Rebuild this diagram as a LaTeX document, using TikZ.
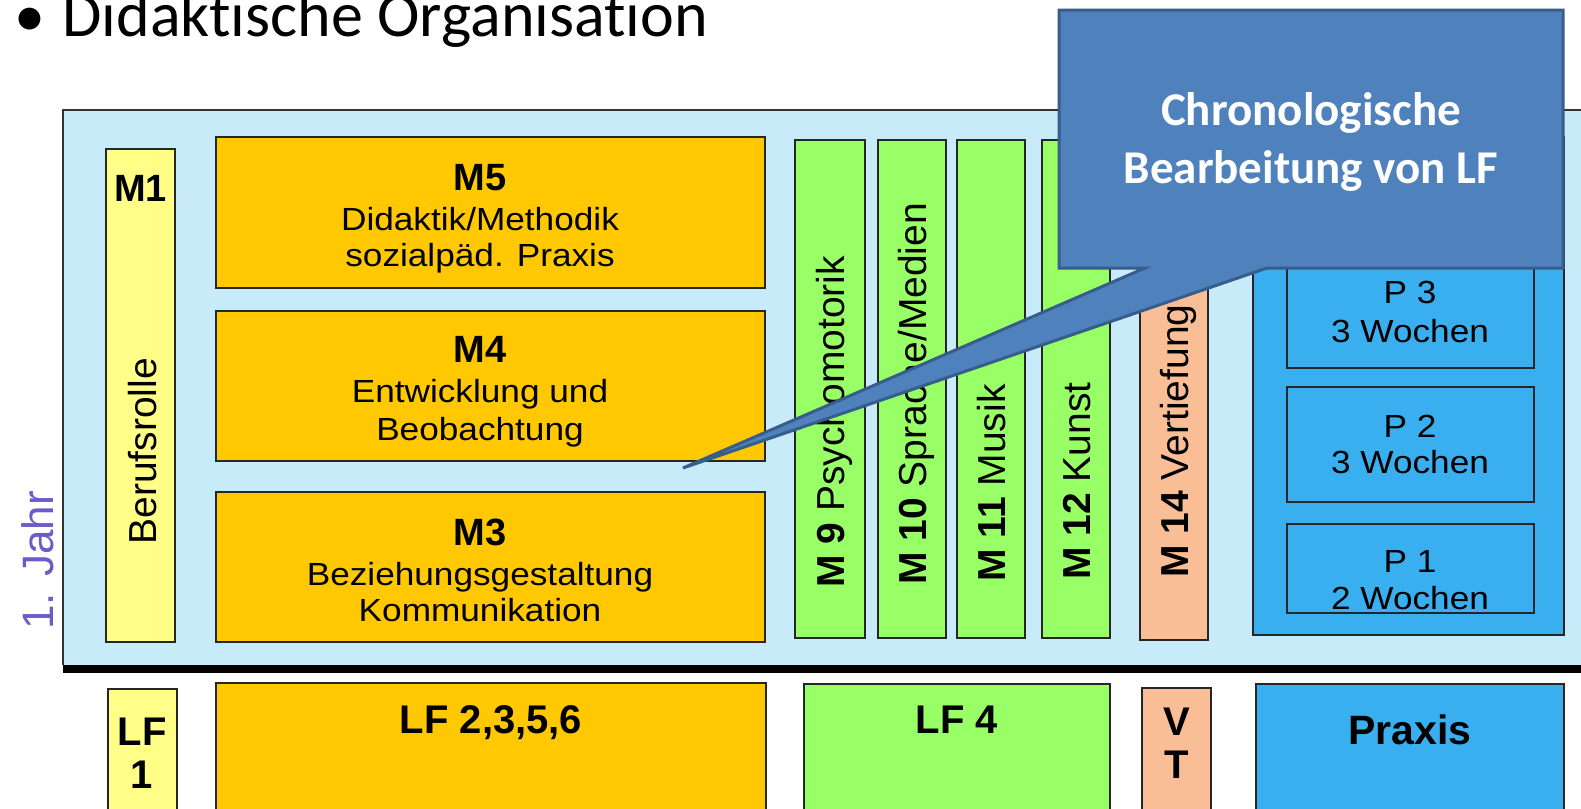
\documentclass[tikz,border=0pt]{standalone}
\usepackage{fontspec}
\setmainfont{Liberation Sans}
\newfontfamily\calib[Ligatures={NoCommon}]{Carlito}
\newfontfamily\arialw[FakeStretch=1.1]{Liberation Sans}
\usetikzlibrary{fit}
\definecolor{panelblue}{RGB}{200,235,250}
\definecolor{orangebox}{RGB}{255,200,0}
\definecolor{yellowbox}{RGB}{255,255,136}
\definecolor{greenbox}{RGB}{153,255,102}
\definecolor{salmonbox}{RGB}{250,190,150}
\definecolor{praxisblue}{RGB}{58,175,240}
\definecolor{callfill}{RGB}{79,129,189}
\definecolor{callline}{RGB}{56,93,138}
\definecolor{jahrcol}{RGB}{110,90,200}
\begin{document}
\begin{tikzpicture}[x=0.5pt,y=-0.5pt,
  box/.style={draw=black!85,line width=1.2pt,inner sep=0pt},
  obox/.style={box,fill=orangebox},
  ybox/.style={box,fill=yellowbox},
  gbox/.style={box,fill=greenbox},
  sbox/.style={box,fill=salmonbox},
  pbox/.style={box,fill=praxisblue},
  ttl/.style={anchor=base,inner sep=0pt,font=\bfseries\fontsize{19}{19}\selectfont},
  txt/.style={anchor=base,inner sep=0pt,font=\arialw\fontsize{16}{16}\selectfont},
  btl/.style={anchor=base,inner sep=0pt,font=\bfseries\fontsize{20}{20}\selectfont},
  vtxt/.style={anchor=base west,inner sep=0pt,rotate=90,font=\fontsize{19.5}{19.5}\selectfont},
  ctxt/.style={anchor=base,inner sep=0pt,text=white,font=\calib\bfseries\fontsize{23.5}{23.5}\selectfont}
]
\useasboundingbox (0,0) rectangle (1581,809);
\fill[white] (0,0) rectangle (1581,809);

% title
\node[anchor=base,inner sep=0pt,font=\calib\fontsize{31}{31}\selectfont] (bullet) at (30,36) {•};
\node[anchor=base west,inner sep=0pt,font=\calib\fontsize{32}{32}\selectfont] (title) at (62,36) {Didaktische Organisation};

% panel
\node[fit={(63,110)(1600,665)},fill=panelblue,inner sep=0pt] (panel) {};
\draw[line width=1pt,black!80] (panel.north east) -- (panel.north west) -- (panel.south west);
\draw[line width=4pt] (63,669) -- (1600,669);

% 1. Jahr
\node[vtxt,font=\fontsize{22}{22}\selectfont,text=jahrcol] (jahr) at (54,630) {1. Jahr};

% M1
\node[ybox,fit={(106,149)(175,642)}] (m1) {};
\node[ttl] (m1t) at (140.5,201) {M1};
\node[vtxt] (m1v) at (156,545) {Berufsrolle};

% orange modules
\node[obox,fit={(216,137)(765,288)}] (m5) {};
\node[ttl] (m5t) at (480,190) {M5};
\node[txt] (m5a) at (480,230) {Didaktik/Methodik};
\node[txt] (m5b) at (480,266) {sozialpäd. Praxis};

\node[obox,fit={(216,311)(765,461)}] (m4) {};
\node[ttl] (m4t) at (480,362) {M4};
\node[txt] (m4a) at (480,402) {Entwicklung und};
\node[txt] (m4b) at (480,440) {Beobachtung};

\node[obox,fit={(216,492)(765,642)}] (m3) {};
\node[ttl] (m3t) at (480,545) {M3};
\node[txt] (m3a) at (480,585) {Beziehungsgestaltung};
\node[txt] (m3b) at (480,621) {Kommunikation};

% vertical modules
\node[gbox,fit={(795,140)(865,638)}] (m9) {};
\node[vtxt] (m9v) at (844,588) {\textbf{M 9} Psychomotorik};
\node[gbox,fit={(878,140)(946,638)}] (m10) {};
\node[vtxt] (m10v) at (926,585) {\textbf{M 10} Sprache/Medien};
\node[gbox,fit={(957,140)(1025,638)}] (m11) {};
\node[vtxt] (m11v) at (1005,582) {\textbf{M 11} Musik};
\node[gbox,fit={(1042,140)(1110,638)}] (m12) {};
\node[vtxt] (m12v) at (1090,580) {\textbf{M 12} Kunst};
\node[sbox,fit={(1140,140)(1208,640)}] (m14) {};
\node[vtxt] (m14v) at (1188,578) {\textbf{M 14} Vertiefung};

% praxis container
\node[pbox,fit={(1253,137)(1564,635)}] (pc) {};
\node[pbox,fit={(1287,253)(1534,368)}] (p3) {};
\node[txt] (p3a) at (1410,303) {P 3};
\node[txt] (p3b) at (1410,342) {3 Wochen};
\node[pbox,fit={(1287,387)(1534,502)}] (p2) {};
\node[txt] (p2a) at (1410,437) {P 2};
\node[txt] (p2b) at (1410,473) {3 Wochen};
\node[pbox,fit={(1287,524)(1534,613)}] (p1) {};
\node[txt] (p1a) at (1410,572) {P 1};
\node[txt] (p1b) at (1410,609) {2 Wochen};

% bottom row
\node[ybox,fit={(108,689)(177,830)}] (lf1) {};
\node[btl] (lf1a) at (142,745) {LF};
\node[btl] (lf1b) at (142,788) {1};
\node[obox,fit={(216,683)(766,830)}] (lf2) {};
\node[btl] (lf2a) at (491,733) {LF 2,3,5,6};
\node[gbox,fit={(804,684)(1110,830)}] (lf4) {};
\node[btl] (lf4a) at (957,733) {LF 4};
\node[sbox,fit={(1142,688)(1211,830)}] (vt) {};
\node[btl] (vta) at (1177,735) {V};
\node[btl] (vtb) at (1177,778) {T};
\node[pbox,fit={(1256,684)(1564,830)}] (prx) {};
\node[btl,font=\bfseries\fontsize{20.5}{20.5}\selectfont] (prxa) at (1410,744) {Praxis};

% callout
\coordinate (tip) at (683,468);
\draw[fill=callfill,draw=callline,line width=1.5pt,line join=miter]
  (1059,10) -- (1563,10) -- (1563,268) -- (1267,268) -- (tip) -- (1145,268) -- (1059,268) -- cycle;
\node[ctxt] (c1) at (1311,125) {Chronologische};
\node[ctxt] (c2) at (1311,183) {Bearbeitung von LF};
\end{tikzpicture}
\end{document}
